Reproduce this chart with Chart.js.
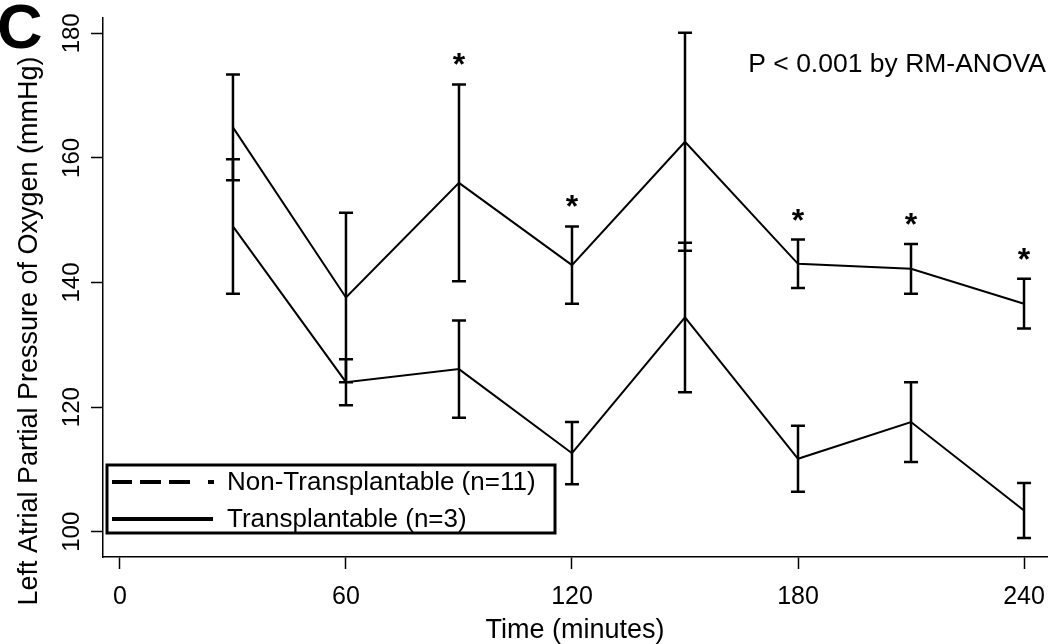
<!DOCTYPE html>
<html><head><meta charset="utf-8">
<script src="https://cdn.jsdelivr.net/npm/chart.js@4.4.0/dist/chart.umd.min.js"></script>
<style>html,body{margin:0;padding:0;background:#fff;} #wrap{width:1050px;height:644px;position:relative;}</style>
</head><body><div id="wrap"><canvas id="c"></canvas></div>
<script>
// ---- data ----
const times = [30, 60, 90, 120, 150, 180, 210, 240];
const transplantableMean = [164.9, 137.6, 156.0, 142.8, 162.6, 143.0, 142.2, 136.6];
const transplantableSem  = [8.5, 13.6, 15.8, 6.2, 17.5, 3.9, 4.0, 4.0];
const nonTransplantableMean = [149.0, 124.0, 126.1, 112.6, 134.4, 111.7, 117.6, 103.4];
const nonTransplantableSem  = [10.8, 3.7, 7.8, 5.0, 12.0, 5.3, 6.4, 4.4];
const significantTimes = [90, 120, 180, 210, 240];
const xTickValues = [0, 60, 120, 180, 240];
const yTickValues = [100, 120, 140, 160, 180];
const seriesNames = ['Non-Transplantable (n=11)', 'Transplantable (n=3)'];
const xTitle = 'Time (minutes)';
const yTitle = 'Left Atrial Partial Pressure of Oxygen (mmHg)';
const panelLabel = 'C';
const statText = 'P < 0.001 by RM-ANOVA';
const sigMark = '*';

const FONT = '"Liberation Sans", Arial, Helvetica, sans-serif';
Chart.defaults.font.family = FONT;
Chart.defaults.color = '#000';

const toPoints = (xs, ys) => xs.map((x, i) => ({x: x, y: ys[i]}));

const extrasPlugin = {
  id: 'extras',
  afterDatasetsDraw(chart) {
    const ctx = chart.ctx, xs = chart.scales.x, ys = chart.scales.y;
    ctx.save();
    ctx.strokeStyle = '#000';
    ctx.lineWidth = 2.5;
    ctx.lineCap = 'butt';
    chart.data.datasets.forEach(ds => {
      ds.data.forEach((p, i) => {
        const e = ds.sem[i];
        const px = xs.getPixelForValue(p.x);
        const t = ys.getPixelForValue(p.y + e);
        const b = ys.getPixelForValue(p.y - e);
        ctx.beginPath();
        ctx.moveTo(px, t); ctx.lineTo(px, b);
        ctx.moveTo(px - 7, t); ctx.lineTo(px + 7, t);
        ctx.moveTo(px - 7, b); ctx.lineTo(px + 7, b);
        ctx.stroke();
      });
    });
    // significance marks
    ctx.fillStyle = '#000';
    ctx.font = 'bold 32px ' + FONT;
    ctx.textAlign = 'center';
    ctx.textBaseline = 'alphabetic';
    significantTimes.forEach(t => {
      const i = times.indexOf(t);
      const px = xs.getPixelForValue(t);
      const top = ys.getPixelForValue(transplantableMean[i] + transplantableSem[i]);
      ctx.fillText(sigMark, px, top - 9);
    });
    ctx.restore();
  },
  afterDraw(chart) {
    const ctx = chart.ctx;
    ctx.save();
    ctx.fillStyle = '#000';
    // panel letter
    ctx.font = 'bold 63px ' + FONT;
    ctx.textAlign = 'left';
    ctx.textBaseline = 'alphabetic';
    ctx.fillText(panelLabel, -3, 48);
    // stat text
    ctx.font = '26.5px ' + FONT;
    ctx.textAlign = 'right';
    ctx.fillText(statText, 1046, 72);
    // y title
    ctx.save();
    ctx.translate(30, 331);
    ctx.rotate(-Math.PI / 2);
    ctx.font = '27px ' + FONT;
    ctx.textAlign = 'center';
    ctx.textBaseline = 'middle';
    ctx.fillText(yTitle, 0, 0);
    ctx.restore();
    // legend
    ctx.strokeStyle = '#000';
    ctx.lineWidth = 3;
    ctx.strokeRect(107, 465, 448, 68);
    ctx.lineWidth = 4;
    ctx.beginPath();
    ctx.setLineDash([20, 8, 21, 8, 21, 18, 6, 100]);
    ctx.moveTo(112, 482); ctx.lineTo(216, 482);
    ctx.stroke();
    ctx.setLineDash([]);
    ctx.beginPath();
    ctx.moveTo(112, 519); ctx.lineTo(213, 519);
    ctx.stroke();
    ctx.font = '26px ' + FONT;
    ctx.textAlign = 'left';
    ctx.textBaseline = 'middle';
    ctx.fillText(seriesNames[0], 227, 483);
    ctx.fillText(seriesNames[1], 227, 520);
    ctx.restore();
  }
};

new Chart(document.getElementById('c'), {
  type: 'line',
  data: {
    datasets: [
      { label: seriesNames[0], data: toPoints(times, nonTransplantableMean), sem: nonTransplantableSem,
        borderColor: '#000', borderWidth: 2, pointRadius: 0, tension: 0, fill: false },
      { label: seriesNames[1], data: toPoints(times, transplantableMean), sem: transplantableSem,
        borderColor: '#000', borderWidth: 2, pointRadius: 0, tension: 0, fill: false }
    ]
  },
  options: {
    responsive: true,
    maintainAspectRatio: false,
    devicePixelRatio: 1,
    animation: false,
    layout: { padding: { top: 18, right: 3, bottom: 0, left: 0 } },
    plugins: { legend: { display: false }, tooltip: { enabled: false } },
    scales: {
      x: {
        type: 'linear', min: -4.5, max: 246.1,
        afterBuildTicks: s => { s.ticks = xTickValues.map(v => ({value: v})); },
        afterFit: s => { s.height = 87; s.paddingLeft = 0; s.paddingRight = 0; },
        grid: { drawOnChartArea: false, drawTicks: true, tickLength: 12, tickColor: '#000', tickWidth: 1.5 },
        border: { display: true, color: '#000', width: 1.5 },
        ticks: { color: '#000', font: { size: 25 }, padding: 13, autoSkip: false, maxRotation: 0, minRotation: 0 },
        title: { display: true, text: xTitle, color: '#000', font: { size: 27 }, padding: { top: 0, bottom: -3 } }
      },
      y: {
        type: 'linear', min: 95.94, max: 182.46,
        afterBuildTicks: s => { s.ticks = yTickValues.map(v => ({value: v})); },
        afterFit: s => { s.width = 103; s.paddingTop = 0; s.paddingBottom = 0; },
        grid: { drawOnChartArea: false, drawTicks: true, tickLength: 12, tickColor: '#000', tickWidth: 1.5 },
        border: { display: true, color: '#000', width: 1.5 },
        ticks: { color: '#000', font: { size: 24 }, padding: -1, autoSkip: false, minRotation: 90, maxRotation: 90, crossAlign: 'center' },
        title: { display: false }
      }
    }
  },
  plugins: [extrasPlugin]
});
</script>
</body></html>
